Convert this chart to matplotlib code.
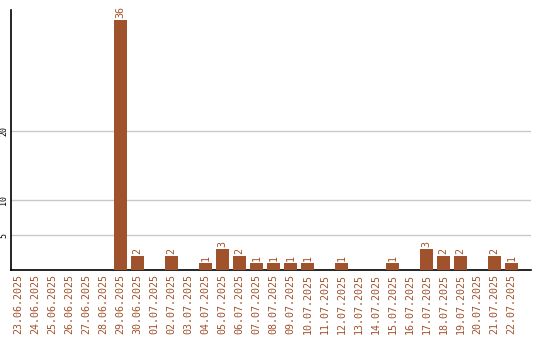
import matplotlib
matplotlib.use("Agg")
import matplotlib.pyplot as plt

# daily counts, 23.06.2025 - 22.07.2025
dates = ["23.06.2025", "24.06.2025", "25.06.2025", "26.06.2025", "27.06.2025",
         "28.06.2025", "29.06.2025", "30.06.2025", "01.07.2025", "02.07.2025",
         "03.07.2025", "04.07.2025", "05.07.2025", "06.07.2025", "07.07.2025",
         "08.07.2025", "09.07.2025", "10.07.2025", "11.07.2025", "12.07.2025",
         "13.07.2025", "14.07.2025", "15.07.2025", "16.07.2025", "17.07.2025",
         "18.07.2025", "19.07.2025", "20.07.2025", "21.07.2025", "22.07.2025"]
counts = [0, 0, 0, 0, 0, 0, 36, 2, 0, 2,
          0, 1, 3, 2, 1, 1, 1, 1, 0, 1,
          0, 0, 1, 0, 3, 2, 2, 0, 2, 1]
y_ticks = [5, 10, 20]

brown = "#a0522d"
mono = "DejaVu Sans Mono"

fig = plt.figure(figsize=(5.4, 3.4), dpi=100)
ax = fig.add_axes([0.0204, 0.206, 0.963, 0.765])

x = list(range(len(dates)))
bw = 0.82
ax.bar(x, counts, width=bw, color=brown, zorder=3)

for xi, v in zip(x, counts):
    if v > 0:
        ax.text(xi, v + 0.3, str(v), rotation=90, ha="center", va="bottom",
                color=brown, fontsize=7.2, family=mono)

ax.set_xlim(-bw / 2 - 0.03, 30.15)
ax.set_ylim(0, 37.4)
ax.set_xticks(x)
ax.set_xticklabels(dates, rotation=90, color=brown, fontsize=7.2, family=mono)
ax.set_yticks(y_ticks)
ax.set_yticklabels([str(t) for t in y_ticks], rotation=90, va="center",
                   fontsize=6, family=mono)
ax.tick_params(axis="x", length=0, pad=3)
ax.tick_params(axis="y", length=0, pad=2)
ax.grid(axis="y", color="#c8c8c8", lw=1, zorder=0)

for s in ["top", "right"]:
    ax.spines[s].set_visible(False)
ax.spines["left"].set_linewidth(1.2)
ax.spines["bottom"].set_linewidth(1.2)

fig.savefig("out.png", dpi=100)
